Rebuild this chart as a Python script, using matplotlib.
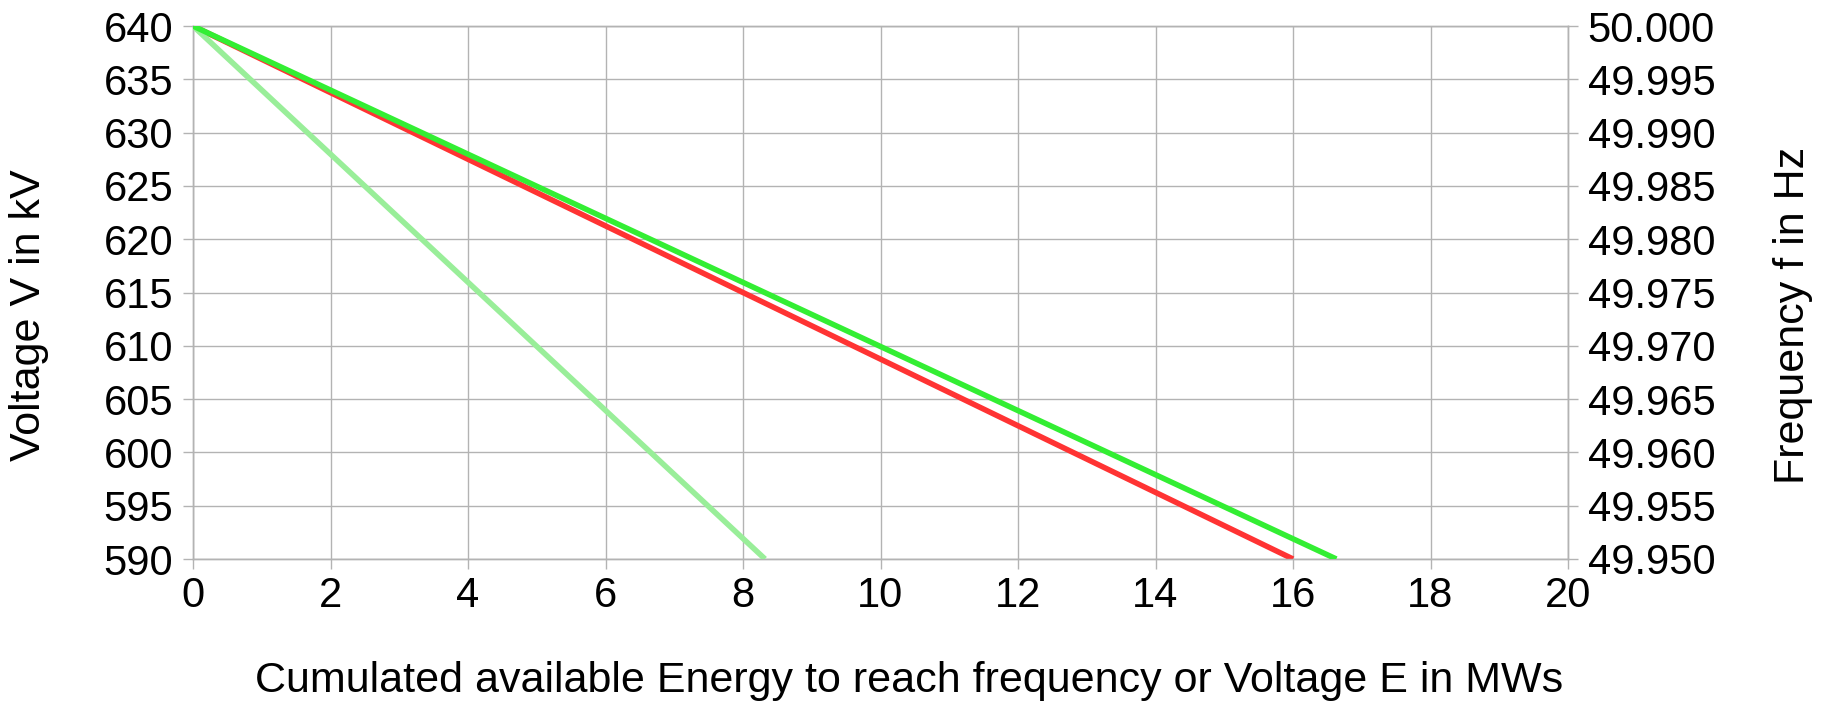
import numpy as np
import matplotlib.pyplot as plt

plt.rcParams['font.family'] = ['Liberation Sans', 'DejaVu Sans']

# energy (MWs) vs. voltage / frequency
energy_voltage = [0, 16.0]
voltage = [640, 590]
energy_freq = [0, 16.63]
freq = [50.0, 49.95]
energy_freq_half = [0, 8.32]
freq_half = [50.0, 49.95]

volt_ticks = np.arange(590, 641, 5)
freq_ticks = [49.95, 49.955, 49.96, 49.965, 49.97, 49.975, 49.98, 49.985, 49.99, 49.995, 50.0]
x_ticks = np.arange(0, 21, 2)

grid_col = '#b3b3b3'
fs = 30

fig, ax = plt.subplots(figsize=(18.25, 7.04), dpi=100)
fig.subplots_adjust(left=193/1825, right=1568/1825, top=1-26/704, bottom=1-559/704)

ax2 = ax.twinx()

ax.set_xlim(0, 20)
ax.set_ylim(590, 640)
ax2.set_ylim(49.95, 50.0)

ax.set_xticks(x_ticks)
ax.set_yticks(volt_ticks)
ax2.set_yticks(freq_ticks)
ax2.set_yticklabels(['%.3f' % f for f in freq_ticks])

ax.grid(True, color=grid_col, linewidth=1)
ax.set_axisbelow(True)
for a in (ax, ax2):
    for s in a.spines.values():
        s.set_color(grid_col)
        s.set_linewidth(1)
    a.tick_params(labelsize=fs, color=grid_col, length=7.2, width=1, pad=7)
ax.tick_params(axis='x', pad=5)

ax2.plot(energy_freq_half, freq_half, color='#99ee99', linewidth=4, solid_capstyle='butt', zorder=3)
ax.plot(energy_voltage, voltage, color='#ff3333', linewidth=4, solid_capstyle='butt', zorder=3)
ax2.plot(energy_freq, freq, color='#33ee33', linewidth=4, solid_capstyle='butt', zorder=4)

ax.set_xlabel('Cumulated available Energy to reach frequency or Voltage E in MWs', fontsize=31, va='center')
ax.set_ylabel('Voltage V in kV', fontsize=31, va='center')
ax2.set_ylabel('Frequency f in Hz', fontsize=31, va='center')
ax.xaxis.set_label_coords(0.521, -0.229)
ax.yaxis.set_label_coords(-0.119, 0.457)
ax2.yaxis.set_label_coords(1.1636, 0.457)

fig.savefig('out.png', dpi=100)
